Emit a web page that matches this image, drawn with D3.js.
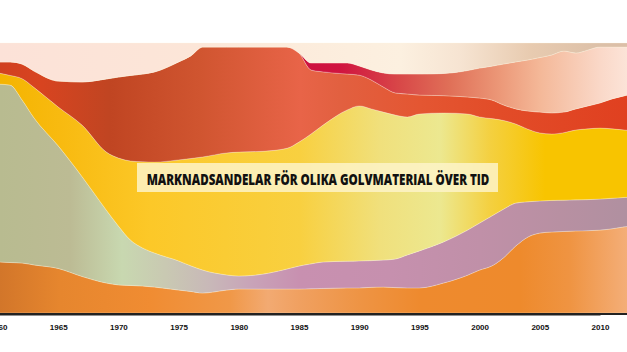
<html>
    <head>
        <script src="https://d3js.org/d3.v7.min.js"></script>
        <style>
            body{ margin:0; background:#fff; }
            .tick text{ font-family:"Liberation Sans", Arial, sans-serif; font-weight:bold; font-size:8px; fill:#111; }
        </style>
    </head>
    <body>
        <svg id="svg" width="627" height="352"></svg>
        <script>
            // data: market share (%) per floor material
            var years    = [1960,1961,1962,1963,1965,1967,1969,1970,1971,1972,1973,1975,1976,1977,1979,1980,1982,1984,1985,1986,1987,1989,1990,1991,1992,1993,1994,1995,1997,1999,2000,2001,2002,2003,2004,2005,2006,2007,2008,2009,2010,2011,2012,2013];
            var orange   = [18.9,18.7,18.5,17.8,16.5,13.5,11.1,10.4,10.2,10.0,9.6,8.5,8.0,7.4,8.5,8.9,8.9,8.9,8.9,9.0,9.1,9.3,9.3,9.5,9.6,9.4,9.3,9.3,11.1,14.0,15.9,17.4,20.5,24.8,28.1,29.6,30.0,30.2,30.4,30.5,30.7,31.2,31.9,32.6];
            var sage     = [65.9,65.7,60.4,54.4,45.4,36.9,27.0,21.8,16.8,14.1,12.6,10.8,9.5,8.5,5.6,4.8,5.5,7.4,8.5,9.2,9.8,9.9,10.0,9.9,10.0,10.6,12.2,13.7,15.2,16.7,17.4,18.5,18.0,15.9,13.1,11.9,11.7,11.6,11.5,11.5,11.5,11.3,10.9,10.4];
            var yellow   = [4.1,3.6,7.9,11.3,14.4,19.1,21.5,25.2,29.3,31.9,33.7,37.4,39.7,41.9,45.2,45.9,45.5,44.7,45.9,48.1,50.7,56.0,57.4,56.2,54.8,53.3,51.1,50.7,47.8,43.0,39.3,36.1,32.8,29.3,26.9,25.2,24.6,25.0,25.9,26.2,26.3,25.7,25.0,24.4];
            var red      = [4.1,5.0,5.4,6.1,9.6,16.1,27.1,30.0,31.7,32.5,33.4,36.3,38.0,40.7,39.2,38.9,38.6,37.5,33.0,23.7,19.7,13.3,11.4,10.7,9.3,8.2,8.5,7.0,6.4,6.3,7.0,6.9,5.7,5.6,6.7,7.7,7.8,7.6,7.8,8.5,9.3,11.1,12.6,14.1];
            var crimson  = [0,0,0,0,0,0,0,0,0,0,0,0,0,0,0,0,0,0,0,2.6,3.3,4.1,3.4,3.7,5.2,7.0,7.4,7.8,8.2,9.8,11.1,12.5,15.2,17.4,18.9,20.2,21.5,22.6,20.7,20.7,20.7,19.2,18.1,17.0];
            var rest     = [7.0,7.0,7.8,10.4,14.1,14.4,13.3,12.6,12.0,11.5,10.7,7.0,4.8,1.5,1.5,1.5,1.5,1.5,3.7,7.4,7.4,7.4,8.5,10.0,11.1,11.5,11.5,11.5,11.3,10.2,9.3,8.6,7.8,7.0,6.3,5.4,4.4,3.0,3.7,2.6,1.5,1.5,1.5,1.5];
            var tickYears = [1960,1965,1970,1975,1980,1985,1990,1995,2000,2005,2010];
            var title = "MARKNADSANDELAR FÖR OLIKA GOLVMATERIAL ÖVER TID";

            var keys = ["orange","sage","yellow","red","crimson","rest"];
            var series = {orange:orange, sage:sage, yellow:yellow, red:red, crimson:crimson, rest:rest};
            var table = years.map(function(y, i){
                var row = {year:y};
                keys.forEach(function(k){ row[k] = series[k][i]; });
                return row;
            });

            // horizontal colour ramps for each band
            var ramps = {
                orange:[[0,"#d2762a"],[60,"#e6862e"],[150,"#f08c32"],[230,"#f09848"],[268,"#f2aa72"],[300,"#f0a060"],[360,"#ee9444"],[420,"#ee8a2e"],[520,"#ee8a2c"],[570,"#ef9442"],[627,"#f4ae78"]],
                sage:[[0,"#b8bb90"],[70,"#bcbb94"],[122,"#c8d8b0"],[165,"#c9c9b2"],[210,"#c8b8b8"],[250,"#c8a4b8"],[300,"#c890b0"],[390,"#c690ae"],[480,"#c090a8"],[560,"#b890a2"],[627,"#b090a0"]],
                yellow:[[0,"#f4b400"],[60,"#f8ba10"],[150,"#fcc828"],[300,"#f8d040"],[380,"#f0e07c"],[440,"#ece890"],[490,"#f4d040"],[545,"#f8c400"],[627,"#f8c400"]],
                red:[[0,"#d04020"],[40,"#d84420"],[110,"#c04522"],[200,"#d05530"],[300,"#e86448"],[340,"#e26040"],[420,"#e45632"],[500,"#e24c28"],[627,"#e04020"]],
                crimson:[[295,"#cc1040"],[340,"#d01440"],[400,"#d84848"],[450,"#e07058"],[500,"#ec9878"],[540,"#f4b898"],[600,"#fad8c8"],[627,"#fce4d8"]],
                rest:[[0,"#fce2d8"],[200,"#fce6d8"],[300,"#fcecdc"],[400,"#fcf0e0"],[460,"#f6e4d2"],[530,"#e8cbb0"],[600,"#dcc0a8"],[627,"#dcbfa8"]]
            };

            var svg = d3.select("svg");
            var W = +svg.attr("width");

            var x = d3.scaleLinear().domain([1960, 2010]).range([-2, 600]);
            var y = d3.scaleLinear().domain([0, 100]).range([313, 43]);

            var defs = svg.append("defs");
            keys.forEach(function(k){
                var g = defs.append("linearGradient").attr("id","g_"+k)
                    .attr("gradientUnits","userSpaceOnUse")
                    .attr("x1",0).attr("x2",W).attr("y1",0).attr("y2",0);
                ramps[k].forEach(function(s){
                    g.append("stop").attr("offset", s[0]/W).attr("stop-color", s[1]);
                });
            });

            var stacked = d3.stack().keys(keys)(table);
            var area = d3.area()
                .curve(d3.curveMonotoneX)
                .x(function(d){ return x(d.data.year); })
                .y0(function(d){ return y(d[0]); })
                .y1(function(d){ return y(d[1]); });

            svg.append("g").selectAll("path")
                .data(stacked)
                .enter().append("path")
                .attr("d", area)
                .attr("fill", function(d){ return "url(#g_"+d.key+")"; })
                .attr("stroke", "rgba(255,250,230,0.45)")
                .attr("stroke-width", 0.6);

            // axis
            var axis = d3.axisBottom(x).tickValues(tickYears).tickSize(0).tickSizeOuter(0).tickFormat(d3.format("d")).tickPadding(10);
            var ax = svg.append("g").attr("transform","translate(0,314)").call(axis);
            ax.select(".domain").attr("stroke","#222").attr("stroke-width",2);
            svg.append("line").attr("x1",0).attr("x2",W).attr("y1",314).attr("y2",314)
                .attr("stroke","#222").attr("stroke-width",2);

            // title box
            svg.append("rect").attr("x",137).attr("y",163).attr("width",361).attr("height",29)
                .attr("fill","#fdf3c8").attr("opacity",0.85);
            var tg = svg.append("g");
            var tt = tg.append("text").attr("x",0).attr("y",0)
                .attr("text-anchor","middle")
                .style("font-family","'Open Sans', sans-serif").style("font-weight","800")
                .style("font-size","16.5px").attr("fill","#111")
                .text(title);
            var natural = tt.node().getComputedTextLength();
            tg.attr("transform","translate(318,185) scale(" + (343/natural) + ",1)");
        </script>
    </body>
</html>
